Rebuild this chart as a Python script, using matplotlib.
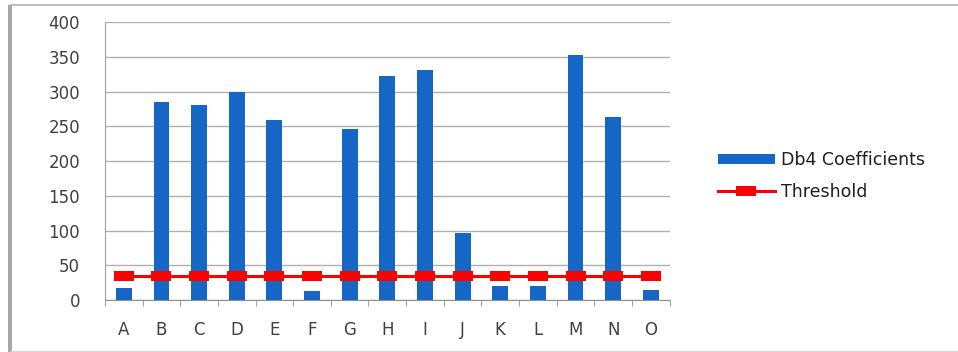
import matplotlib.pyplot as plt
import numpy as np
from matplotlib.patches import Rectangle
from matplotlib.lines import Line2D

categories = ['A', 'B', 'C', 'D', 'E', 'F', 'G', 'H', 'I', 'J', 'K', 'L', 'M', 'N', 'O']
db4 = [17, 285, 280, 300, 259, 14, 246, 323, 331, 96, 20, 20, 352, 263, 15]
threshold = [35] * len(categories)

plt.rcParams['font.family'] = ['DejaVu Sans']

fig = plt.figure(figsize=(9.58, 3.52), dpi=100)
ax = fig.add_axes([0.1096, 0.147, 0.5894, 0.7905])

x = np.arange(len(categories))
bars = ax.bar(x, db4, width=0.42, color='#1666c5', label='Db4 Coefficients', zorder=2)
rect = [(-1, -0.5), (1, -0.5), (1, 0.5), (-1, 0.5), (-1, -0.5)]
line, = ax.plot(x, threshold, color='#ff0000', lw=2.2, marker=rect, markersize=15,
                markeredgewidth=0, label='Threshold', zorder=3)

ax.set_xlim(-0.5, len(categories) - 0.5)
ax.set_ylim(0, 400)
ax.set_yticks(range(0, 401, 50))
ax.yaxis.grid(True, color='#b0b0b0', lw=1)
ax.set_axisbelow(True)
ax.set_xticks(x)
ax.set_xticklabels(categories)
ax.set_xticks(np.arange(-0.5, len(categories)), minor=True)
ax.tick_params(axis='x', which='major', length=0, pad=15, labelsize=12, colors='#404040')
ax.tick_params(axis='x', which='minor', length=4, color='#909090', direction='out')
ax.tick_params(axis='y', length=0, pad=18, labelsize=12, colors='#404040')
for s in ['top', 'right']:
    ax.spines[s].set_visible(False)
ax.spines['left'].set_color('#a0a0a0')
ax.spines['bottom'].set_color('#909090')

fig.legend([bars, line], ['Db4 Coefficients', 'Threshold'],
           loc='center left', bbox_to_anchor=(0.733, 0.5), frameon=False,
           fontsize=12.5, handlelength=3.3, handleheight=0.5, handletextpad=0.35,
           labelspacing=0.75, labelcolor='#202020')

# outer chart frame: top and bottom rules, heavy left edge, open on the right
fig.add_artist(Line2D([0.011, 1.0], [0.985, 0.985], transform=fig.transFigure,
                      color='#b0b0b0', lw=1.2))
fig.add_artist(Line2D([0.011, 1.0], [0.004, 0.004], transform=fig.transFigure,
                      color='#d8d8d8', lw=1.0))
fig.patches.append(Rectangle((0.008, 0.0), 0.005, 0.986, transform=fig.transFigure,
                             facecolor='#a8a8a8', edgecolor='none'))

fig.savefig('out.png', dpi=100)
